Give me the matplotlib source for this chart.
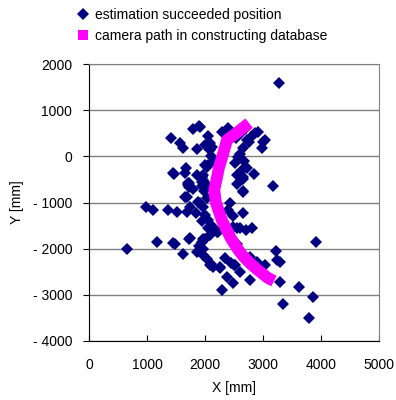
import matplotlib
matplotlib.use('Agg')
import matplotlib.pyplot as plt
from matplotlib.lines import Line2D
from matplotlib.ticker import FuncFormatter

plt.rcParams['font.family'] = ['Liberation Sans', 'DejaVu Sans']

# estimated positions [mm]
est_x = [3270, 1800, 1900, 1414, 1570, 1620, 1860, 1466, 1672, 1724, 1724,
         1862, 1950, 1950, 2000, 2050, 1655, 980, 1100, 1360, 1520, 1690,
         1740, 1845, 1914, 1707, 655, 1170, 1480, 1620, 1724, 1862, 1900,
         1950, 2000, 2086, 1966, 2030, 2100, 2138, 2260, 2293, 2483, 2500,
         2224, 2431, 2400, 2552, 3172, 2655, 2655, 2655, 2603, 2810, 2700,
         3914, 3224, 3241, 3300, 2776, 2900, 3034, 2517, 2603, 2776, 3293,
         3621, 3862, 3345, 3793, 2914, 3034, 2983, 2862, 3000, 2724, 2655,
         2569, 2520, 2640, 2724, 2655, 2655, 2810, 2293, 2400, 2121, 2086,
         2086, 1914, 2034, 1966, 1448, 1655, 1707, 1948, 1948, 1690, 1879,
         2034, 1966, 2552, 1966, 2000, 2060, 2207, 2483, 1448, 1741, 1966,
         1966, 2086, 2259, 2600, 2540, 2600, 2680, 2560, 2480, 2560, 2050,
         2000, 2100, 2150, 2050, 1980, 2120, 2620, 2700, 2760, 2850, 2450,
         2350, 2380, 2050, 1950, 1800, 2900]
est_y = [1580, 600, 660, 400, 290, 180, 160, -380, -250, -580, -660,
         -400, -450, -550, -190, -190, -880, -1100, -1160, -1160, -1200, -1200,
         -1100, -1230, -1010, -620, -2000, -1850, -1900, -2110, -1790, -2070, -1950,
         -1850, -1780, -1700, -2140, -2230, -2330, -2400, -2400, -2900, -2740, -2350,
         -1640, -1010, -1160, -1550, -640, -770, -500, -1230, -1550, -1550, -1600,
         -1855, -2050, -2245, -2290, -2180, -2280, -2350, -2350, -2500, -2680, -2720,
         -2830, -3050, -3200, -3500, 527, 354, 181, 505, 311, 354, 181,
         -14, -143, -296, -253, -447, -751, 440, 527, 614, 202, 289,
         138, 636, -231, -400, -360, -360, -577, -447, -650, -881, -989,
         -900, -512, -404, -1097, -1270, -1380, -1640, -1530, -1877, -1768, -1800,
         -2000, -2353, -2418, 600, 400, 50, -100, -600, -1300, -1900, 450,
         250, 0, -100, -650, -750, -1500, 500, 620, 300, -380, -2300,
         -2200, -2620, -1550, -1400, -700, -2400]

# camera path used for building the database [mm]
path_x = [2760, 2560, 2380, 2300, 2240, 2200, 2160, 2190, 2290, 2440,
          2560, 2650, 2780, 2910, 3080, 3190]
path_y = [720, 520, 354, 0, -250, -500, -730, -1010, -1380, -1760,
          -2000, -2150, -2320, -2460, -2630, -2700]

navy = '#000080'
magenta = '#FF00FF'

fig = plt.figure(figsize=(3.96, 4.0), dpi=100)
ax = fig.add_axes([0.2247, 0.1475, 0.7323, 0.6925])

ax.plot(est_x, est_y, ls='none', marker='D', ms=6.2, color=navy,
        markeredgewidth=0, zorder=2)
ax.plot(path_x, path_y, color=magenta, lw=8.5, solid_capstyle='butt',
        solid_joinstyle='round', zorder=3)

ax.set_xlim(0, 5000)
ax.set_ylim(-4000, 2000)
ax.set_xticks(range(0, 5001, 1000))
ax.set_yticks(range(-4000, 2001, 1000))
ax.yaxis.set_major_formatter(FuncFormatter(
    lambda v, p: ('- %d' % abs(v)) if v < 0 else '%d' % v))
ax.grid(axis='y', color='#808080', lw=1)
ax.set_axisbelow(True)

for s in ['top', 'right']:
    ax.spines[s].set_color('#808080')
for s in ['left', 'bottom']:
    ax.spines[s].set_color('black')
ax.tick_params(axis='y', direction='out', length=4, labelsize=10, pad=8)
ax.tick_params(axis='x', direction='in', length=4, labelsize=10, pad=12)

ax.set_xlabel('X [mm]', fontsize=10, labelpad=7)
ax.set_ylabel('Y [mm]', fontsize=10, labelpad=6)

handles = [
    Line2D([], [], ls='none', marker='D', ms=6.2, color=navy, markeredgewidth=0),
    Line2D([], [], ls='none', marker='s', ms=6.5, color=magenta, markeredgewidth=0),
]
fig.legend(handles, ['estimation succeeded position',
                     'camera path in constructing database'],
           loc='upper left', bbox_to_anchor=(0.175, 1.0), frameon=False,
           fontsize=10, handlelength=0.8, handletextpad=0.45, labelspacing=0.45,
           borderaxespad=0.2)

fig.savefig('out.png', dpi=100)
